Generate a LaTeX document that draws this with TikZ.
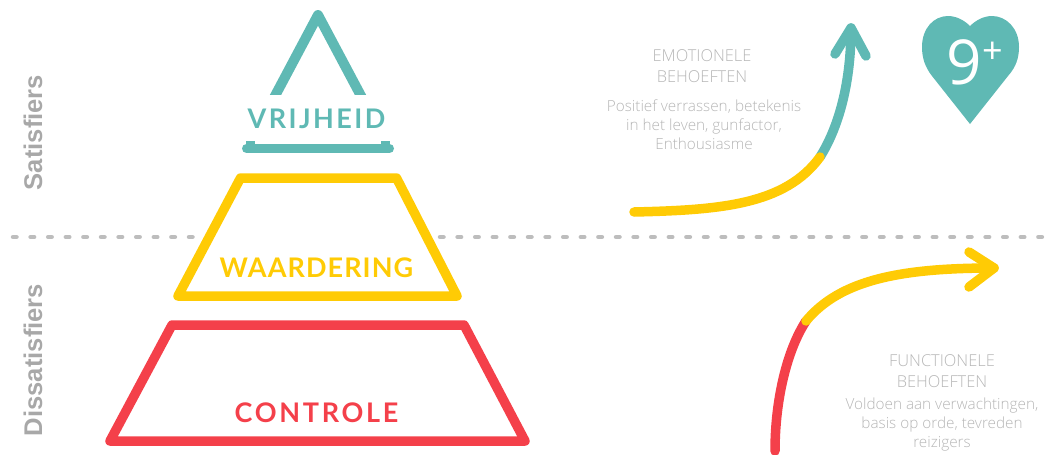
\documentclass[tikz,border=0pt]{standalone}
\usepackage{fontspec}
\setmainfont{Open Sans Light}
\newfontfamily\headfontA[LetterSpace=9]{Lato Bold}
\newfontfamily\headfontB[LetterSpace=4]{Lato Bold}
\newfontfamily\headfontC[LetterSpace=10]{Lato Bold}
\newfontfamily\sidefont{Liberation Sans}
\newfontfamily\scorefont{Open Sans}
\definecolor{teal1}{HTML}{5FB9B4}
\definecolor{gold1}{HTML}{FFCB05}
\definecolor{red1}{HTML}{F4404A}
\definecolor{dash1}{HTML}{BDBDBD}
\definecolor{side1}{HTML}{A8A8A8}
\definecolor{txt1}{HTML}{B6B6B6}
\tikzset{
 shapeline/.style={line width=#1,line join=round,line cap=round},
 headlabel/.style={inner sep=0pt},
 sidelabel/.style={font=\sidefont\bfseries\fontsize{25.6}{25.6}\selectfont,text=side1,rotate=90,inner sep=0pt},
 titlelabel/.style={font=\fontsize{16.4}{21}\selectfont,text=txt1,align=center,inner sep=0pt},
 bodylabel/.style={font=\fontsize{15.3}{19}\selectfont,text=txt1,align=center,inner sep=0pt},
 divider/.style={line width=4.5pt,color=dash1,line cap=round,dash pattern=on 3.5pt off 14.1pt},
 curve/.style={line width=9.5pt,line cap=round,line join=round},
}
\begin{document}
\begin{tikzpicture}[x=1pt,y=-1pt]
\useasboundingbox (0,0) rectangle (1055,455);
% coordinates
\coordinate (d1) at (13,237); \coordinate (d2) at (200,237);
\coordinate (d3) at (440,237); \coordinate (d4) at (1042,237);
\draw[divider] (d1) -- (d2);
\draw[divider] (d3) -- (d4);
% triangle
\begin{scope}
\clip (250,0) rectangle (390,94);
\draw[shapeline=10pt,color=teal1,line cap=butt] (270.7,104) -- (318,15) -- (365.3,104);
\end{scope}
\draw[shapeline=9pt,color=teal1] (246.5,148.5) -- (389.5,148.5);
\draw[shapeline=4pt,color=teal1,line cap=butt] (246,143) -- (255,143) (381,143) -- (390,143);
\node[headlabel,text=teal1,font=\headfontA\fontsize{27}{27}\selectfont] (vr) at (316.5,118.5) {VRIJHEID};
% trapezoid
\draw[shapeline=9.5pt,color=gold1] (240.5,178) -- (396.5,178) -- (457,296) -- (178,296) -- cycle;
\node[headlabel,text=gold1,font=\headfontB\fontsize{27}{27}\selectfont] (wa) at (316.5,268) {WAARDERING};
\draw[shapeline=9.5pt,color=red1] (172,325) -- (464,325) -- (525,441) -- (110,441) -- cycle;
\node[headlabel,text=red1,font=\headfontC\fontsize{27}{27}\selectfont] (co) at (316.5,413) {CONTROLE};
% side
\node[sidelabel] (sa) at (33,132.5) {Satisfiers};
\node[sidelabel] (di) at (33,360) {Dissatisfiers};
% emotion
\node[titlelabel] (em) at (702,66) {EMOTIONELE\\BEHOEFTEN};
\node[bodylabel] (po) at (704,125) {Positief verrassen, betekenis\\in het leven, gunfactor,\\Enthousiasme};
% arrow 1
\coordinate (a0) at (634,212); \coordinate (a1) at (820,157); \coordinate (a2) at (851,28);
\draw[curve,color=teal1] (a1) .. controls (840,125) and (851,80) .. (a2);
\draw[curve,color=teal1] (835,54) -- (a2) -- (866,56);
\draw[curve,color=gold1] (a0) .. controls (720,210) and (785,205) .. (a1);
% heart
\fill[teal1] (970,124) -- (932,76) .. controls (925,67) and (922,58) .. (922,47)
  .. controls (922,28) and (934,16) .. (948,16)
  .. controls (957,16) and (965,21) .. (970,26)
  .. controls (975,21) and (983,16) .. (992,16)
  .. controls (1006,16) and (1019,28) .. (1019,47)
  .. controls (1019,58) and (1016,67) .. (1008,76) -- cycle;
\node[inner sep=0pt,text=white,font=\scorefont\fontsize{62}{62}\selectfont] (nine) at (964,62) {9};
\node[inner sep=0pt,text=white,font=\scorefont\fontsize{36}{36}\selectfont] (plus) at (992.5,53) {+};
% arrow 2
\coordinate (b0) at (775,451); \coordinate (b1) at (806,321); \coordinate (b2) at (994,268);
\draw[curve,color=red1] (b0) .. controls (775,400) and (787,350) .. (b1);
\draw[curve,color=gold1] (b1) .. controls (840,280) and (900,268) .. (b2);
\draw[curve,color=gold1] (969,252) -- (b2) -- (969,287);
\node[titlelabel] (fu) at (942,371) {FUNCTIONELE\\BEHOEFTEN};
\node[bodylabel] (vo) at (942,425) {Voldoen aan verwachtingen,\\basis op orde, tevreden\\reizigers};
\end{tikzpicture}
\end{document}
